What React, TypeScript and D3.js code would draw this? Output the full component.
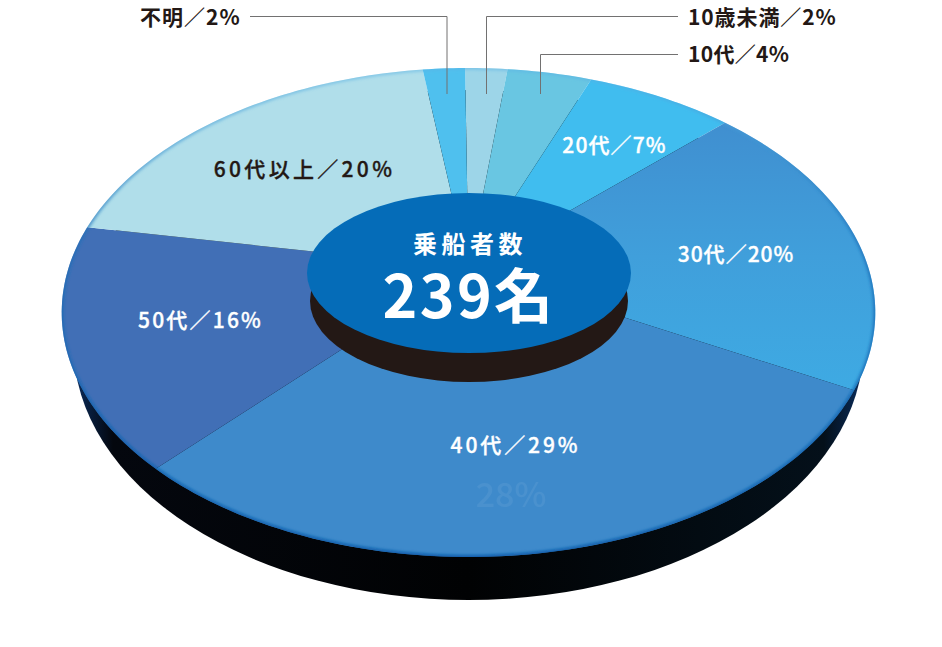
import React from 'react';
import * as d3 from 'd3';

const labels = ['10歳未満', '10代', '20代', '30代', '40代', '50代', '60代以上', '不明'];
const percents = [2, 4, 7, 20, 29, 16, 20, 2];
const colors = ['#9dd5e8', '#69c6e2', '#40bdef', 'url(#fill30)', '#3e8acb', '#416fb6', '#b0deea', '#4fc0ee'];
const totalLabel = '乗船者数';
const totalValue = '239名';
const ghostLabel = '28%';

const FONT = '"Noto Sans CJK JP", "Noto Sans", sans-serif';
const width = 942;
const height = 647;

// Perspective of the disc: apex of the slices sits above the middle of the rim
const apex = { x: 468.5, y: 268 };
const scaleX = 400;
const scaleY = 236.4;
const tilt = -0.182;

const project = (angle: number): [number, number] => {
  const ux = Math.sin(angle);
  const uy = -Math.cos(angle);
  const w = 1 + tilt * uy;
  return [apex.x + (scaleX * ux) / w, apex.y + (scaleY * uy) / w];
};

const line = d3.line();
const arcs = d3.pie<number>().sort(null).startAngle(-0.01).endAngle(2 * Math.PI - 0.01)(percents);

const slicePath = (start: number, end: number) => {
  const steps = Math.max(2, Math.ceil((end - start) / 0.02));
  const angle = d3.scaleLinear().domain([0, steps]).range([start, end]);
  const rim = d3.range(steps + 1).map((i) => project(angle(i)));
  return line([[apex.x, apex.y], ...rim])! + 'Z';
};

const outsideLabels = [
  { i: 7, x: 140, y: 25, spacing: 1 },
  { i: 0, x: 688, y: 25, spacing: 0.9 },
  { i: 1, x: 688, y: 62, spacing: 0.3 }
];
const insideLabels = [
  { i: 2, x: 614.5, y: 153, fill: '#fff', spacing: 1.1 },
  { i: 3, x: 736, y: 262, fill: '#fff', spacing: 1 },
  { i: 4, x: 515.5, y: 453, fill: '#fff', spacing: 2.9 },
  { i: 5, x: 200.5, y: 328, fill: '#fff', spacing: 2.2 },
  { i: 6, x: 304.5, y: 177, fill: '#231815', spacing: 3.3 }
];
const leaders = [
  'M250,16.5H447V94',
  'M678,16.5H486.5V94',
  'M678,54.5H540.5V94'
];

const rimPath = d3.range(0, 2 * Math.PI + 0.02, 0.02).map((a) => project(a));
const rimD = line(rimPath)! + 'Z';

const App: React.FC = () => (
  <svg
    width={width}
    height={height}
    viewBox={`0 0 ${width} ${height}`}
    style={{ position: 'absolute', left: 0, top: 0, fontFamily: FONT }}
  >
    <defs>
      <linearGradient id="sideFill" x1="0" x2="1" y1="0" y2="0">
        <stop offset="0" stopColor="#0a2c5c" />
        <stop offset="0.05" stopColor="#04070e" />
        <stop offset="0.5" stopColor="#010203" />
        <stop offset="0.95" stopColor="#04101a" />
        <stop offset="1" stopColor="#0a2c5c" />
      </linearGradient>
      <linearGradient id="fill30" x1="0" x2="0" y1="0" y2="1">
        <stop offset="0" stopColor="#408fd0" />
        <stop offset="0.5" stopColor="#409fdb" />
        <stop offset="1" stopColor="#3eaae3" />
      </linearGradient>
      <linearGradient id="rimFade" gradientUnits="userSpaceOnUse" x1="0" x2="0" y1="68" y2="557">
        <stop offset="0" stopColor="#5bb4e6" stopOpacity="0.5" />
        <stop offset="0.35" stopColor="#1b6fb8" stopOpacity="0.7" />
        <stop offset="1" stopColor="#0b5cab" stopOpacity="1" />
      </linearGradient>
      <filter id="rimBlur" x="-10%" y="-10%" width="120%" height="120%">
        <feGaussianBlur stdDeviation="1.6" />
      </filter>
      <clipPath id="discClip">
        <path d={rimD} />
      </clipPath>
    </defs>

    <rect width={width} height={height} fill="#fff" />

    {/* thickness of the disc */}
    <ellipse cx={468.5} cy={345} rx={395} ry={255} fill="url(#sideFill)" />

    {/* slices */}
    {arcs.map((d, i) => (
      <path key={labels[i]} d={slicePath(d.startAngle, d.endAngle)} fill={colors[i]} />
    ))}

    {/* dark rim sheen */}
    <g clipPath="url(#discClip)">
      <path d={rimD} fill="none" stroke="url(#rimFade)" strokeWidth={4} filter="url(#rimBlur)" />
    </g>

    {/* leftover print under the 40s label */}
    <text x={511} y={507} fontSize={34} fontWeight={500} fill="#fff" opacity={0.06} textAnchor="middle">
      {ghostLabel}
    </text>

    {/* leader lines */}
    {leaders.map((d) => (
      <path key={d} d={d} fill="none" stroke="#727171" strokeWidth={1} />
    ))}

    {outsideLabels.map((l) => (
      <text key={l.i} x={l.x} y={l.y} fontSize={21} fontWeight={700} fill="#231815" letterSpacing={l.spacing}>
        {labels[l.i]}／{percents[l.i]}%
      </text>
    ))}
    {insideLabels.map((l) => (
      <text key={l.i} x={l.x} y={l.y} fontSize={21} fontWeight={500} fill={l.fill} stroke={l.fill} strokeWidth={0.35} textAnchor="middle" letterSpacing={l.spacing}>
        {labels[l.i]}／{percents[l.i]}%
      </text>
    ))}

    {/* hub */}
    <ellipse cx={469} cy={301} rx={159} ry={81} fill="#231815" />
    <ellipse cx={469} cy={273} rx={162} ry={80} fill="#056cb8" />
    <text x={470} y={253} fontSize={24} fontWeight={700} fill="#fff" textAnchor="middle" letterSpacing={4.5}>
      {totalLabel}
    </text>
    <text x={469} y={318} fontSize={59} fontWeight={700} fill="#fff" textAnchor="middle" letterSpacing={2.4}>
      {totalValue}
    </text>
  </svg>
);

export default App;
